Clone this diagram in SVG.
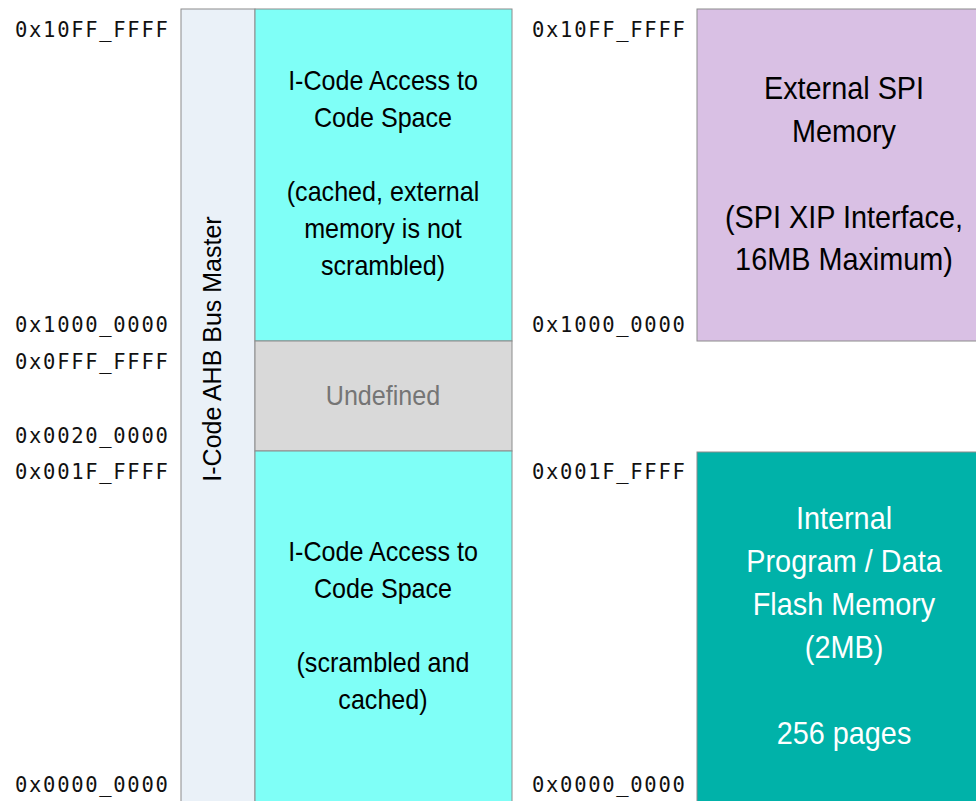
<svg xmlns="http://www.w3.org/2000/svg" width="976" height="801" viewBox="0 0 976 801">
<style>
.addr{font-family:"DejaVu Sans Mono","Liberation Mono",monospace;font-size:20.5px;letter-spacing:1.7px;fill:#111}
.lbl{font-family:"Liberation Sans",Arial,sans-serif;text-anchor:middle}
.box{stroke:#8c8c8c;stroke-width:1}
</style>
<rect width="976" height="801" fill="#ffffff"/>
<g id="addresses-left">
<text class="addr" x="15" y="37">0x10FF_FFFF</text>
<text class="addr" x="15" y="332">0x1000_0000</text>
<text class="addr" x="15" y="369">0x0FFF_FFFF</text>
<text class="addr" x="15" y="443">0x0020_0000</text>
<text class="addr" x="15" y="479">0x001F_FFFF</text>
<text class="addr" x="15" y="792">0x0000_0000</text>
</g>
<g id="addresses-right">
<text class="addr" x="532" y="37">0x10FF_FFFF</text>
<text class="addr" x="532" y="332">0x1000_0000</text>
<text class="addr" x="532" y="479">0x001F_FFFF</text>
<text class="addr" x="532" y="792">0x0000_0000</text>
</g>
<g id="bus-master">
<rect class="box" x="181" y="9" width="74" height="800" fill="#eaf1f8"/>
<text class="lbl" transform="translate(221,349) rotate(-90)" font-size="25" fill="#000">I-Code AHB Bus Master</text>
</g>
<g id="icode-upper">
<rect class="box" x="255" y="9" width="257" height="332" fill="#7ffff7"/>
<g transform="translate(383,0) scale(0.93,1)" font-size="27" fill="#000">
<text class="lbl" x="0" y="90">I-Code Access to</text>
<text class="lbl" x="0" y="127">Code Space</text>
<text class="lbl" x="0" y="201">(cached, external</text>
<text class="lbl" x="0" y="238">memory is not</text>
<text class="lbl" x="0" y="275">scrambled)</text>
</g>
</g>
<g id="undefined">
<rect class="box" x="255" y="341" width="257" height="110" fill="#d9d9d9"/>
<text class="lbl" transform="translate(383,405) scale(0.93,1)" font-size="27" fill="#757575">Undefined</text>
</g>
<g id="icode-lower">
<rect class="box" x="255" y="451" width="257" height="360" fill="#7ffff7"/>
<g transform="translate(383,0) scale(0.93,1)" font-size="27" fill="#000">
<text class="lbl" x="0" y="561">I-Code Access to</text>
<text class="lbl" x="0" y="598">Code Space</text>
<text class="lbl" x="0" y="672">(scrambled and</text>
<text class="lbl" x="0" y="709">cached)</text>
</g>
</g>
<g id="external-spi">
<rect class="box" x="697" y="9" width="300" height="332" fill="#d9c0e4"/>
<g transform="translate(844,0) scale(0.93,1)" font-size="31" fill="#000">
<text class="lbl" x="0" y="99">External SPI</text>
<text class="lbl" x="0" y="142">Memory</text>
<text class="lbl" x="0" y="228">(SPI XIP Interface,</text>
<text class="lbl" x="0" y="270">16MB Maximum)</text>
</g>
</g>
<g id="internal-flash">
<rect class="box" x="697" y="452" width="300" height="360" fill="#00b2a9"/>
<g transform="translate(844,0) scale(0.93,1)" font-size="31" fill="#ffffff">
<text class="lbl" x="0" y="529">Internal</text>
<text class="lbl" x="0" y="572">Program / Data</text>
<text class="lbl" x="0" y="615">Flash Memory</text>
<text class="lbl" x="0" y="658">(2MB)</text>
<text class="lbl" x="0" y="744">256 pages</text>
</g>
</g>
<g id="connectors"></g>
</svg>
